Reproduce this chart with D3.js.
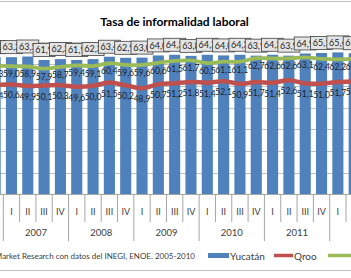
<!DOCTYPE html>
<html>
<head>
<meta charset="utf-8">
<script src="https://cdn.jsdelivr.net/npm/d3@7"></script>
<style>
  body { margin: 0; background: #fff; }
  svg { display: block; font-family: Lato, "Open Sans", sans-serif; }
</style>
</head>
<body>
<div id="chart"></div>
<script>
// periods shown (2006 IV and 2012 II are cut by the frame)
var years    = ["2006", "2007", "2007", "2007", "2007", "2008", "2008", "2008", "2008",
                "2009", "2009", "2009", "2009", "2010", "2010", "2010", "2010",
                "2011", "2011", "2011", "2011", "2012", "2012"];
var quarters = ["IV", "I", "II", "III", "IV", "I", "II", "III", "IV", "I", "II", "III", "IV",
                "I", "II", "III", "IV", "I", "II", "III", "IV", "I", "II"];
var yucatan  = [63.2, 63.2, 63.5, 61.9, 62.3, 61.9, 62.3, 63.4, 62.9, 63.0, 64.0, 64.3,
                63.8, 64.3, 64.0, 64.3, 63.9, 64.3, 63.9, 64.9, 65.1, 65.4, 65.0];
var qroo     = [50.4, 50.6, 49.9, 50.1, 50.3, 49.6, 50.0, 51.5, 50.2, 48.9, 50.7, 51.2,
                51.8, 51.4, 52.1, 50.9, 51.7, 51.4, 52.6, 51.1, 51.0, 51.7, 52.0];
var nacional = [59.3, 59.0, 58.9, 57.9, 58.7, 59.4, 59.1, 60.4, 59.6, 59.6, 60.6, 61.5,
                61.7, 60.5, 61.1, 61.1, 62.7, 62.6, 62.6, 63.1, 62.4, 62.2, 62.5];
var yTicks = [0, 10, 20, 30, 40, 50, 60, 70];

var width = 351, height = 278;
var step = 16.32, x0 = 3.3 - step;
var n = quarters.length;
var idx = d3.range(n);

var svg = d3.select("#chart").append("svg")
  .attr("width", width)
  .attr("height", height);

var x = d3.scaleBand()
  .domain(idx)
  .range([x0, x0 + n * step])
  .paddingInner(0.32)
  .paddingOuter(0.16);

var y = d3.scaleLinear()
  .domain([0, 70])
  .range([194.3, 42.4]);

var fmt = function(v) { return d3.format(".1f")(v).replace(".", ","); };
var cx = function(i) { return x(i) + x.bandwidth() / 2; };

// chart frame
svg.append("line").attr("x1", 0).attr("x2", width).attr("y1", 1.5).attr("y2", 1.5)
  .attr("stroke", "#bfbfbf");
svg.append("line").attr("x1", 0).attr("x2", width).attr("y1", 270.5).attr("y2", 270.5)
  .attr("stroke", "#bfbfbf");

// title
svg.append("text")
  .attr("x", 174.5).attr("y", 26)
  .attr("text-anchor", "middle")
  .style("font-size", "12px").style("font-weight", "bold")
  .attr("fill", "#000")
  .text("Tasa de informalidad laboral");

// gridlines
svg.append("g").selectAll("line")
  .data(yTicks.slice(1))
  .enter().append("line")
  .attr("x1", 0).attr("x2", width)
  .attr("y1", function(d) { return Math.round(y(d)) + 0.5; })
  .attr("y2", function(d) { return Math.round(y(d)) + 0.5; })
  .attr("stroke", "#bfbfbf");

// bars
svg.append("g").selectAll("rect")
  .data(idx)
  .enter().append("rect")
  .attr("x", function(i) { return x(i); })
  .attr("width", x.bandwidth())
  .attr("y", function(i) { return y(yucatan[i]); })
  .attr("height", function(i) { return y(0) - y(yucatan[i]); })
  .attr("fill", "#4f81bd");

// lines
var line = function(vals) {
  return d3.line()
    .x(function(i) { return cx(i); })
    .y(function(i) { return y(vals[i]); })
    .curve(d3.curveCatmullRom.alpha(0.5))(idx);
};
svg.append("path").attr("d", line(nacional))
  .attr("fill", "none").attr("stroke", "#9bbb59").attr("stroke-width", 3.8);
svg.append("path").attr("d", line(qroo))
  .attr("fill", "none").attr("stroke", "#c0504d").attr("stroke-width", 4.5);

// line labels (below points)
svg.append("g").selectAll("text")
  .data(idx)
  .enter().append("text")
  .attr("x", cx).attr("y", function(i) { return y(nacional[i]) + 11; })
  .attr("text-anchor", "middle")
  .style("font-size", "8.5px").attr("fill", "#1f1f1f")
  .text(function(i) { return fmt(nacional[i]); });
svg.append("g").selectAll("text")
  .data(idx)
  .enter().append("text")
  .attr("x", cx).attr("y", function(i) { return y(qroo[i]) + 14; })
  .attr("text-anchor", "middle")
  .style("font-size", "8.5px").attr("fill", "#1f1f1f")
  .text(function(i) { return fmt(qroo[i]); });

// boxed bar labels (outside end)
var boxes = svg.append("g").selectAll("g")
  .data(idx)
  .enter().append("g")
  .attr("transform", function(i) { return "translate(" + cx(i) + "," + (y(yucatan[i]) - 10) + ")"; });
boxes.append("rect")
  .attr("x", -11).attr("y", -6.5).attr("width", 22).attr("height", 13)
  .attr("fill", "#e4e4e4").attr("stroke", "#404040").attr("stroke-width", 0.8);
boxes.append("text")
  .attr("y", 3.2)
  .attr("text-anchor", "middle")
  .style("font-size", "9px").attr("fill", "#1f1f1f")
  .text(function(i) { return fmt(yucatan[i]); });

// category axis (two levels)
var axis = svg.append("g");
axis.append("line").attr("x1", 0).attr("x2", width)
  .attr("y1", 194.5).attr("y2", 194.5).attr("stroke", "#a6a6a6");
d3.range(n + 1).forEach(function(k) {
  var bx = x0 + k * step;
  var isYear = k < n && quarters[k] === "I";
  axis.append("line")
    .attr("x1", bx).attr("x2", bx)
    .attr("y1", 194.5).attr("y2", isYear ? 241 : 222)
    .attr("stroke", "#a6a6a6");
});
axis.selectAll(".q")
  .data(idx)
  .enter().append("text")
  .attr("class", "q")
  .attr("x", cx).attr("y", 215)
  .attr("text-anchor", "middle")
  .style("font-size", "9px").attr("fill", "#404040")
  .text(function(i) { return quarters[i]; });
var yearList = Array.from(new Set(years));
axis.selectAll(".yr")
  .data(yearList)
  .enter().append("text")
  .attr("class", "yr")
  .attr("x", function(yr) {
    var first = years.indexOf(yr);
    var q0 = ["I", "II", "III", "IV"].indexOf(quarters[first]);
    return x0 + (first - q0) * step + 2 * step;
  })
  .attr("y", 235.5)
  .attr("text-anchor", "middle")
  .style("font-size", "9.5px").attr("fill", "#404040")
  .text(function(d) { return d; });

// source note
svg.append("text")
  .attr("x", 195).attr("y", 259)
  .attr("text-anchor", "end")
  .style("font-size", "8px").attr("fill", "#404040")
  .text("Fuente: Market Research con datos del  INEGI, ENOE. 2005-2010");

// legend
var legend = svg.append("g");
legend.append("rect").attr("x", 208).attr("y", 253).attr("width", 21).attr("height", 5)
  .attr("fill", "#4f81bd");
legend.append("text").attr("x", 230).attr("y", 259.5)
  .style("font-size", "10px").attr("fill", "#404040").text("Yucatán");
legend.append("line").attr("x1", 274).attr("x2", 293).attr("y1", 255.5).attr("y2", 255.5)
  .attr("stroke", "#c0504d").attr("stroke-width", 3.5);
legend.append("text").attr("x", 294).attr("y", 259.5)
  .style("font-size", "10px").attr("fill", "#404040").text("Qroo");
legend.append("line").attr("x1", 328).attr("x2", 352).attr("y1", 255.5).attr("y2", 255.5)
  .attr("stroke", "#9bbb59").attr("stroke-width", 3.5);
legend.append("text").attr("x", 356).attr("y", 259.5)
  .style("font-size", "10px").attr("fill", "#404040").text("Nacional");
</script>
</body>
</html>
